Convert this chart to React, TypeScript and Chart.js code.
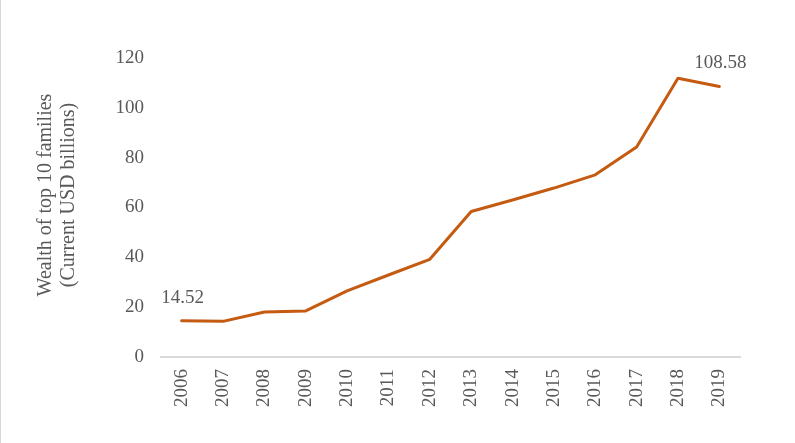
import React, { useEffect, useRef } from "react";
import { Chart, registerables } from "chart.js";

Chart.register(...registerables);

const years = ["2006", "2007", "2008", "2009", "2010", "2011", "2012", "2013", "2014", "2015", "2016", "2017", "2018", "2019"];
const wealth = [14.52, 14.3, 18.07, 18.5, 26.5, 32.9, 39.2, 58.4, 63.0, 67.8, 73.1, 84.3, 111.9, 108.58];
const labelledIndices = [0, 13];
const yTitleLines = ["Wealth of top 10 families", "(Current USD billions)"];

const FONT = "'Liberation Serif', 'Times New Roman', serif";
const TEXT = "#595959";

const overlayPlugin = {
  id: "overlay",
  afterDraw(chart: any) {
    const ctx = chart.ctx;
    const xs = chart.scales.x;
    const ys = chart.scales.y;
    ctx.save();
    // left border
    ctx.strokeStyle = "#d9d9d9";
    ctx.lineWidth = 1;
    ctx.beginPath();
    ctx.moveTo(0.5, 0);
    ctx.lineTo(0.5, chart.height);
    ctx.stroke();
    // data labels
    ctx.fillStyle = TEXT;
    ctx.font = `19px ${FONT}`;
    ctx.textAlign = "center";
    ctx.textBaseline = "middle";
    labelledIndices.forEach((i) => {
      const x = xs.getPixelForValue(i);
      const y = ys.getPixelForValue(wealth[i]);
      ctx.fillText(wealth[i].toFixed(2), x + 1, y - 23);
    });
    // y title
    ctx.font = `20px ${FONT}`;
    ctx.translate(0, 0);
    yTitleLines.forEach((line, k) => {
      ctx.save();
      ctx.translate(46 + k * 23, 195);
      ctx.rotate(-Math.PI / 2);
      ctx.fillText(line, 0, 0);
      ctx.restore();
    });
    ctx.restore();
  },
};

export default function App() {
  const ref = useRef<HTMLCanvasElement | null>(null);
  useEffect(() => {
    if (!ref.current) return;
    const chart = new Chart(ref.current, {
      type: "line",
      data: {
        labels: years,
        datasets: [
          {
            data: wealth,
            borderColor: "#C55A11",
            backgroundColor: "#C55A11",
            borderWidth: 3,
            pointRadius: 0,
            tension: 0,
            borderJoinStyle: "round",
            borderCapStyle: "round",
          },
        ],
      },
      options: {
        animation: false,
        responsive: true,
        maintainAspectRatio: false,
        layout: { padding: { left: 0, right: 55, top: 58, bottom: 0 } },
        plugins: { legend: { display: false }, tooltip: { enabled: false } },
        scales: {
          x: {
            offset: true,
            grid: { display: false, drawTicks: false },
            border: { display: true, color: "#d9d9d9", width: 2 },
            ticks: {
              color: TEXT,
              font: { family: FONT, size: 19 },
              minRotation: 90,
              maxRotation: 90,
              padding: 12,
              autoSkip: false,
            },
            afterFit(scale: any) {
              scale.height = 86;
            },
          },
          y: {
            min: 0,
            max: 120,
            grid: { display: false, drawTicks: false },
            border: { display: false },
            ticks: {
              stepSize: 20,
              color: TEXT,
              font: { family: FONT, size: 19 },
              padding: 17,
            },
            afterFit(scale: any) {
              scale.width = 161;
            },
          },
        },
      },
      plugins: [overlayPlugin],
    } as any);
    return () => chart.destroy();
  }, []);
  return (
    <div style={{ position: "absolute", left: 0, top: 0, width: 795, height: 443, background: "#fff" }}>
      <canvas ref={ref} />
    </div>
  );
}
